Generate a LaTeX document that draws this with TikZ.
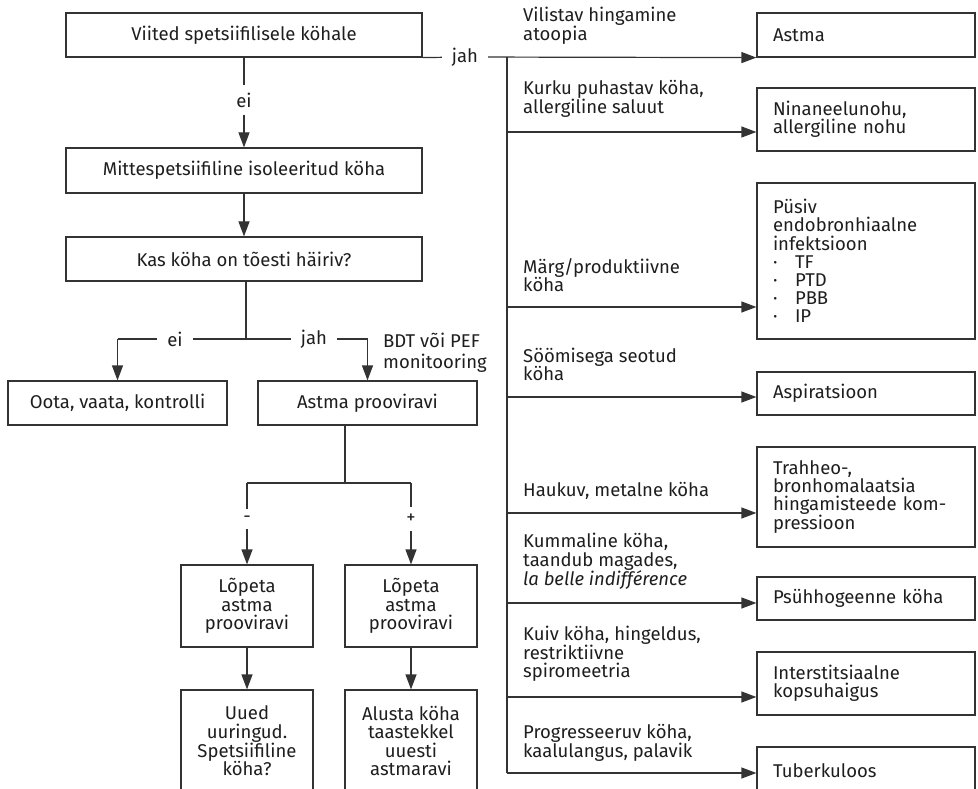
\documentclass[tikz,border=0pt]{standalone}
\usepackage{fontspec}
\setmainfont{Fira Sans}
\usetikzlibrary{arrows.meta}
\definecolor{ln}{HTML}{333333}
\definecolor{tx}{HTML}{1E1E1E}
\begin{document}
\begin{tikzpicture}[x=1pt,y=-1pt,
  font=\fontsize{18.5}{18.2}\selectfont,
  every node/.style={text=tx},
  box/.style={draw=ln, line width=1.2pt, inner sep=0pt, align=center},
  lbox/.style={box, minimum width=356pt, minimum height=44pt},
  mbox/.style={box, minimum width=219pt, minimum height=44pt},
  sbox/.style={box, minimum width=132pt},
  rbox/.style={box, minimum width=218pt, text width=186pt, align=left},
  lab/.style={inner xsep=10pt, inner ysep=7pt},
  rl/.style={anchor=south west, inner sep=0pt, align=left},
  con/.style={draw=ln, line width=1.2pt},
  arr/.style={con, -{Triangle[length=15pt,width=11pt]}}]
\useasboundingbox (0,0) rectangle (978,789);
\clip (0,0) rectangle (978,789);
% left column
\node[lbox] (b1) at (244,35) {Viited spetsiifilisele köhale};
\node[lab] (ei1) at (244,100) {ei};
\node[lbox, minimum height=45pt] (b2) at (244,170.5) {Mittespetsiifiline isoleeritud köha};
\node[lbox] (b3) at (244,259) {Kas köha on tõesti häiriv?};
\node[mbox] (oota) at (117.5,403) {Oota, vaata, kontrolli};
\node[mbox] (ap) at (367.5,403) {Astma prooviravi};
\node[lab] (ei2) at (175,339) {ei};
\node[lab] (jah2) at (314,339) {jah};
\node[anchor=north west, inner sep=0pt, align=left] (bdt) at (383,333.3) {\strut BDT või PEF\\monitooring};
\coordinate (sp) at (246,339);
\coordinate (cl) at (oota.north |- sp);
\coordinate (cr) at (ap.north |- sp);
\coordinate (apb) at (345,425);
\coordinate (sp2) at (345,483);
\node[sbox, minimum height=82pt] (lm) at (247,606) {Lõpeta\\astma\\prooviravi};
\node[sbox, minimum height=82pt] (lp) at (411,606) {Lõpeta\\astma\\prooviravi};
\node[sbox, minimum height=102pt] (um) at (247,741) {Uued\\uuringud.\\Spetsiifiline\\köha?};
\node[sbox, minimum height=102pt] (up) at (411,741) {Alusta köha\\taastekkel\\uuesti\\astmaravi};
\node[lab] (minus) at (247,519) {-};
\node[lab] (plus) at (411,519) {+};
\coordinate (ml) at (lm.north |- sp2);
\coordinate (pl) at (lp.north |- sp2);
\draw[con] (b1) -- (ei1);
\draw[arr] (ei1) -- (b2);
\draw[arr] (b2) -- (b3);
\draw[con] (b3.south -| sp) -- (sp);
\draw[con] (sp) -- (ei2);
\draw[con] (ei2) -- (cl);
\draw[arr] (cl) -- (oota);
\draw[con] (sp) -- (jah2);
\draw[con] (jah2) -- (cr);
\draw[arr] (cr) -- (ap);
\draw[con] (apb) -- (sp2);
\draw[con] (ml) -- (pl);
\draw[con] (ml) -- (minus);
\draw[arr] (minus) -- (lm);
\draw[con] (pl) -- (plus);
\draw[arr] (plus) -- (lp);
\draw[arr] (lm) -- (um);
\draw[arr] (lp) -- (up);
% right column
\node[lab] (jah1) at (465,57) {jah};
\node[rbox, minimum height=44pt] (r1) at (866,35) {Astma};
\node[rbox, minimum height=63pt] (r2) at (866,119.5) {Ninaneelunohu,\\allergiline nohu};
\node[rbox, minimum height=156pt] (r3) at (866,261) {Püsiv\\endobronhiaalne\\infektsioon\\
  \makebox[22pt][l]{·}TF\\\makebox[22pt][l]{·}PTD\\\makebox[22pt][l]{·}PBB\\\makebox[22pt][l]{·}IP};
\node[rbox, minimum height=43pt] (r4) at (866,393.5) {Aspiratsioon};
\node[rbox, minimum height=100pt] (r5) at (866,497) {Trahheo-,\\bronhomalaatsia\\hingamisteede kom-\\pressioon};
\node[rbox, minimum height=43pt] (r6) at (866,598.5) {Psühhogeenne köha};
\node[rbox, minimum height=63pt] (r7) at (866,683.5) {Interstitsiaalne\\kopsuhaigus};
\node[rbox, minimum height=48pt] (r8) at (866,771) {Tuberkuloos};
\coordinate (t1) at (507,57);
\coordinate (t2) at (507,132);
\coordinate (t3) at (507,307);
\coordinate (t4) at (507,397);
\coordinate (t5) at (507,513);
\coordinate (t6) at (507,603);
\coordinate (t7) at (507,697);
\coordinate (t8) at (507,773);
\node[rl] (l1) at (523,46.5) {Vilistav hingamine\\atoopia\strut};
\node[rl] (l2) at (523,119.5) {Kurku puhastav köha,\\allergiline saluut\strut};
\node[rl] (l3) at (523,297.5) {Märg/produktiivne\\köha\strut};
\node[rl] (l4) at (523,386.5) {Söömisega seotud\\köha\strut};
\node[rl] (l5) at (523,502.5) {Haukuv, metalne köha\strut};
\node[rl] (l6) at (523,591.5) {Kummaline köha,\\taandub magades,\\\textit{la belle indifférence}\strut};
\node[rl] (l7) at (523,683.5) {Kuiv köha, hingeldus,\\restriktiivne\\spiromeetria\strut};
\node[rl] (l8) at (523,763.5) {Progresseeruv köha,\\kaalulangus, palavik\strut};
\draw[con] (b1.south east) -- (jah1);
\draw[arr] (jah1) -- (r1.south west);
\draw[con] (t1) -- (t8);
\draw[arr] (t2) -- (t2 -| r2.west);
\draw[arr] (t3) -- (t3 -| r3.west);
\draw[arr] (t4) -- (t4 -| r4.west);
\draw[arr] (t5) -- (t5 -| r5.west);
\draw[arr] (t6) -- (t6 -| r6.west);
\draw[arr] (t7) -- (t7 -| r7.west);
\draw[arr] (t8) -- (t8 -| r8.west);
\end{tikzpicture}
\end{document}
